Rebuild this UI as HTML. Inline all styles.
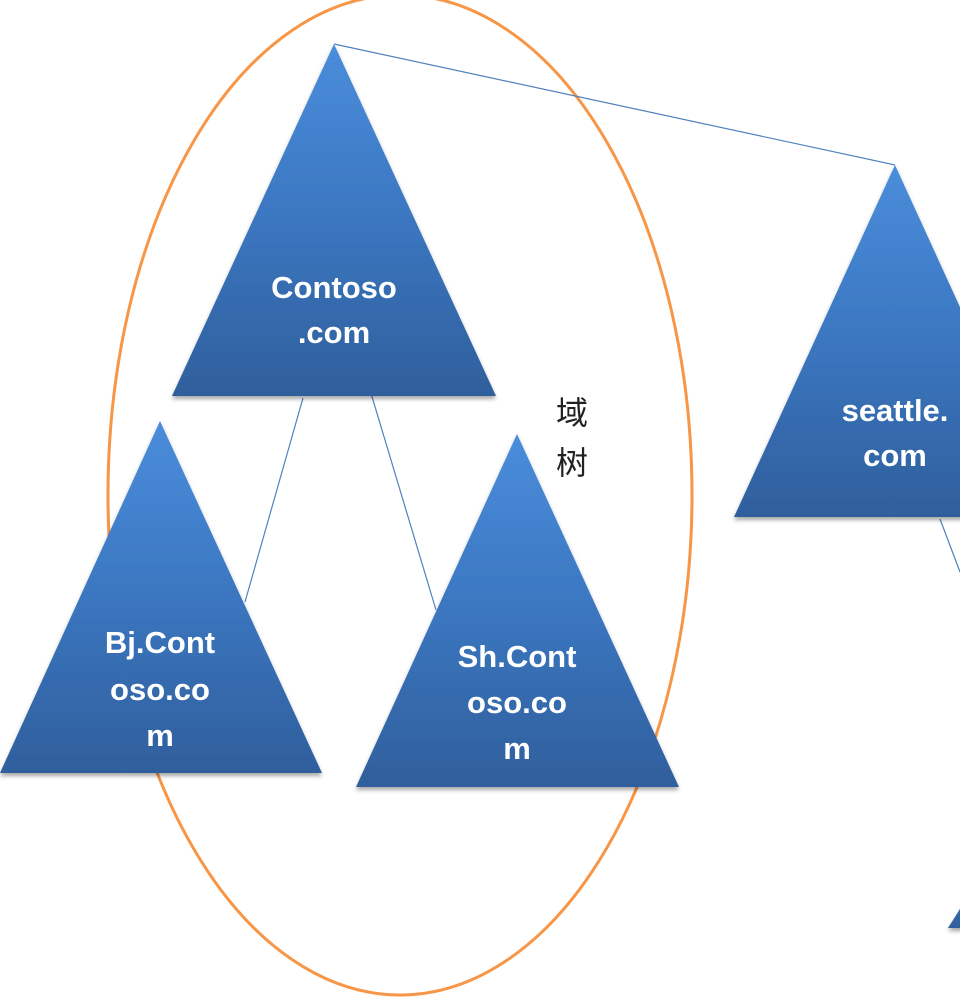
<!DOCTYPE html>
<html><head><meta charset="utf-8"><style>
html,body{margin:0;padding:0;background:#fff;width:960px;height:1007px;overflow:hidden}
svg text{font-family:"Liberation Sans","Noto Sans CJK SC",sans-serif}
</style></head><body>
<svg width="960" height="1007" viewBox="0 0 960 1007" xmlns="http://www.w3.org/2000/svg">
<defs>
<linearGradient id="g" x1="0" y1="0" x2="0" y2="1">
<stop offset="0" stop-color="#4a8ddb"/><stop offset="0.5" stop-color="#3b76c0"/><stop offset="1" stop-color="#2f5f9c"/>
</linearGradient>
<filter id="s" x="-10%" y="-10%" width="120%" height="130%"><feDropShadow dx="0" dy="3" stdDeviation="2" flood-color="#000" flood-opacity="0.35"/></filter>
</defs>
<ellipse cx="400" cy="495" rx="292" ry="500" fill="none" stroke="#f79646" stroke-width="3"/>
<g stroke="#4f81bd" stroke-width="1.2">
<line x1="334" y1="44" x2="895" y2="165"/>
<line x1="303" y1="398" x2="245" y2="602"/>
<line x1="370" y1="390" x2="436" y2="610"/>
<line x1="940" y1="519" x2="960" y2="572"/>
</g>
<g fill="url(#g)" filter="url(#s)">
<polygon points="334,44 172,396 496,396"/>
<polygon points="160,421 0,773 322,773"/>
<polygon points="517,434 356,787 679,787"/>
<polygon points="895,165 734,517 1056,517"/>
<polygon points="1010,830 948,928 1072,928"/>
</g>
<g fill="#fff" font-weight="bold" font-size="31" text-anchor="middle">
<text x="334" y="298">Contoso</text><text x="334" y="343">.com</text>
<text x="160" y="653">Bj.Cont</text><text x="160" y="700">oso.co</text><text x="160" y="746">m</text>
<text x="517" y="667">Sh.Cont</text><text x="517" y="713">oso.co</text><text x="517" y="759">m</text>
<text x="895" y="421">seattle.</text><text x="895" y="466">com</text>
</g>
<text x="572" y="424" font-size="32" fill="#222" text-anchor="middle" font-family="Noto Serif CJK SC,serif">域</text>
<text x="572" y="474" font-size="32" fill="#222" text-anchor="middle" font-family="Noto Serif CJK SC,serif">树</text>
</svg>
</body></html>
